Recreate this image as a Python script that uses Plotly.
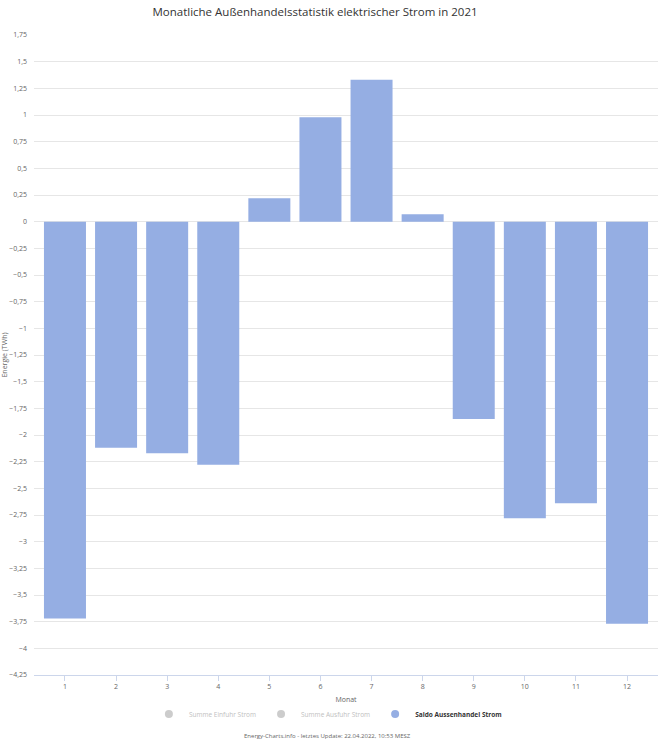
import plotly.graph_objects as go

months = [1, 2, 3, 4, 5, 6, 7, 8, 9, 10, 11, 12]
saldo = [-3.72, -2.12, -2.17, -2.28, 0.22, 0.98, 1.33, 0.07, -1.85, -2.78, -2.64, -3.77]
hidden_series = ["Summe Einfuhr Strom", "Summe Ausfuhr Strom"]
saldo_name = "Saldo Aussenhandel Strom"
title = "Monatliche Außenhandelsstatistik elektrischer Strom in 2021"
credit = "Energy-Charts.info - letztes Update: 22.04.2022, 10:53 MESZ"
ytick_vals = [1.75 - 0.25 * i for i in range(25)]

bar_color = "#95aee3"
font = "Open Sans"

fig = go.Figure()
for name in hidden_series:
    fig.add_trace(go.Scatter(x=[None], y=[None], mode="markers",
                             name="<span style='color:#c0c0c0'>%s</span>" % name,
                             marker=dict(symbol="circle", size=8, color="#cccccc")))
fig.add_trace(go.Bar(x=months, y=saldo, name=saldo_name, marker_color=bar_color,
                     marker_line_width=0, showlegend=False, hoverinfo="x+y"))
fig.add_trace(go.Scatter(x=[None], y=[None], mode="markers", name="<b>%s</b>" % saldo_name,
                         marker=dict(symbol="circle", size=8, color=bar_color)))

fig.update_layout(
    width=666, height=743,
    margin=dict(l=34, r=8, t=35, b=68),
    paper_bgcolor="white", plot_bgcolor="white",
    separators=",.",
    font=dict(family=font, size=7, color="#666666"),
    title=dict(text=title, x=0.473, xanchor="center", y=0.984, yanchor="middle",
               font=dict(family=font, size=11.5, color="#333333")),
    bargap=0.178,
    legend=dict(orientation="h", x=0.471, xanchor="center", y=-0.061, yanchor="middle",
                font=dict(size=6.5, color="#333333"), itemclick=False, itemdoubleclick=False,
                itemwidth=30),
    annotations=[dict(text=credit, x=0.471, xref="paper", y=-0.0955, yref="paper",
                      xanchor="center", yanchor="middle", showarrow=False,
                      font=dict(size=6, color="#666666"))],
    showlegend=True,
)
fig.update_xaxes(range=[0.394, 12.606], tickmode="array", tickvals=months,
                 ticktext=[str(m) for m in months], showgrid=False, automargin=False,
                 showline=True, linecolor="#ccd6eb", linewidth=1,
                 ticks="outside", ticklen=5, tickcolor="#ccd6eb",
                 title=dict(text="Monat", font=dict(size=7, color="#666666"), standoff=6),
                 tickfont=dict(size=7, color="#666666"), zeroline=False)
fig.update_yaxes(range=[-4.25, 1.75], tickmode="array", tickvals=ytick_vals, automargin=False,
                 ticktext=[("%g" % v).replace(".", ",").replace("-", "−") if v != 0 else "0" for v in ytick_vals],
                 showgrid=True, gridcolor="#e6e6e6", gridwidth=1, zeroline=False,
                 title=dict(text="Energie (TWh)", font=dict(size=7, color="#666666"), standoff=4),
                 tickfont=dict(size=7, color="#666666"), ticklabelstandoff=6)

fig.write_html("out.html", config={"displayModeBar": False},
               post_script="document.body.style.margin='0';document.body.style.overflow='hidden';")
